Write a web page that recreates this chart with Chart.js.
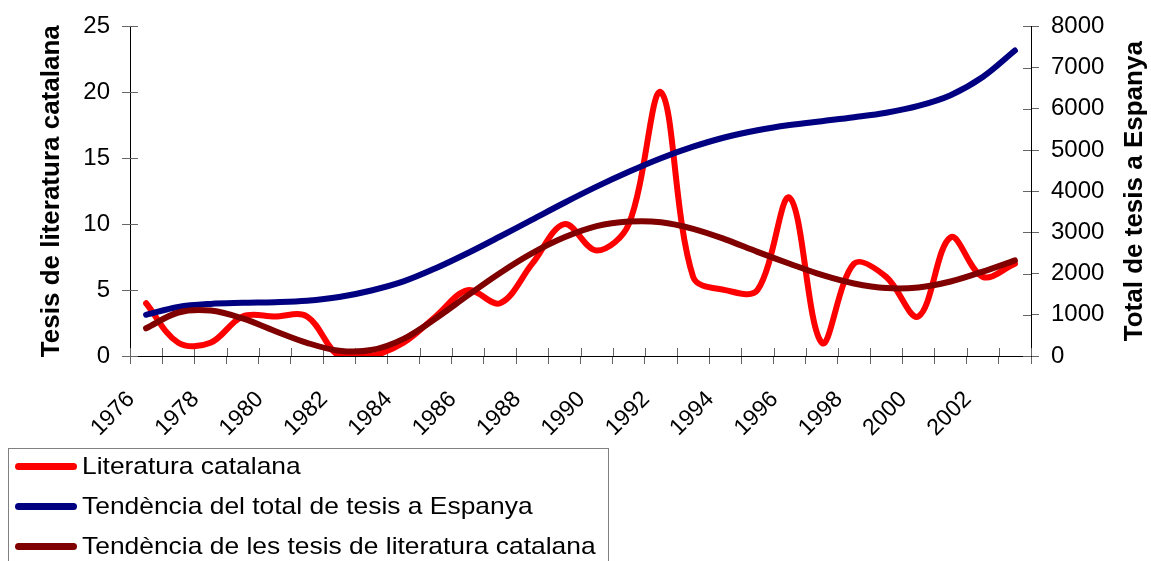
<!DOCTYPE html>
<html>
<head>
<meta charset="utf-8">
<script src="https://cdn.jsdelivr.net/npm/chart.js@4"></script>
<style>
  body { margin: 0; background: #fff; }
  #wrap { position: relative; width: 1151px; height: 561px; overflow: hidden; }
  #legend { position: absolute; left: 8px; top: 448px; width: 599px; height: 140px;
            border: 1px solid #808080; font-family: "Liberation Sans", Arial, sans-serif; font-size: 24px; }
  .row { position: absolute; left: 0; height: 30px; }
  .swatch { position: absolute; left: 6px; width: 62px; height: 7px; border-radius: 4px; }
  .lbl { position: absolute; left: 73px; white-space: nowrap; transform: scaleX(1.1); transform-origin: left center; line-height: 30px; }
</style>
</head>
<body>
<div id="wrap">
  <canvas id="chart" width="1151" height="561"></canvas>
  <div id="legend"></div>
</div>
<script>
const years = ['1976','1977','1978','1979','1980','1981','1982','1983','1984','1985','1986','1987','1988','1989',
               '1990','1991','1992','1993','1994','1995','1996','1997','1998','1999','2000','2001','2002','2003'];

// tesis de literatura catalana per any (eix esquerre)
const literatura = [4,1,1,3,3,3,0,0,1,3,5,4,7,10,8,10,20,6,5,5,12,1,7,6,3,9,6,7];

// tendencia del total a Espanya (eix dret)
const tendenciaEspanya = [1000,1190,1265,1290,1305,1340,1430,1590,1810,2130,2500,2900,3310,3720,
                          4110,4470,4800,5080,5310,5480,5605,5700,5795,5905,6070,6330,6770,7414];

// tendencia de literatura catalana (eix esquerre)
const tendenciaCatalana = [2.1,3.3,3.45,2.85,1.9,1.0,0.4,0.45,1.3,2.85,4.6,6.3,7.8,9.0,
                           9.85,10.2,10.15,9.65,8.85,7.9,7.0,6.15,5.5,5.15,5.2,5.65,6.4,7.25];

const leftTicks = [0,5,10,15,20,25];
const rightTicks = [0,1000,2000,3000,4000,5000,6000,7000,8000];
const rightTitle = 'Total de tesis a Espanya';

const FONT = '"Liberation Sans", Arial, sans-serif';

// little tick marks that cross the axis (inside part)
const innerTicks = {
  id: 'innerTicks',
  beforeDatasetsDraw(chart) {
    const ctx = chart.ctx;
    const area = chart.chartArea;
    const x = chart.scales.x, y = chart.scales.y, y2 = chart.scales.y2;
    ctx.save();
    ctx.strokeStyle = '#666';
    ctx.lineWidth = 1;
    ctx.beginPath();
    for (let i = 0; i <= years.length; i++) {
      const px = Math.round(x.getPixelForValue(i - 0.5)) + 0.5;
      ctx.moveTo(px, area.bottom);
      ctx.lineTo(px, area.bottom - 8);
    }
    leftTicks.forEach(v => {
      const py = Math.round(y.getPixelForValue(v)) + 0.5;
      ctx.moveTo(area.left, py);
      ctx.lineTo(area.left + 8, py);
    });
    rightTicks.forEach(v => {
      const py = Math.round(y2.getPixelForValue(v)) + 0.5;
      ctx.moveTo(area.right, py);
      ctx.lineTo(area.right - 8, py);
    });
    ctx.stroke();
    ctx.restore();
  },
  // right axis title reads bottom to top like in excel
  afterDraw(chart) {
    const ctx = chart.ctx;
    const area = chart.chartArea;
    const y2 = chart.scales.y2;
    ctx.save();
    ctx.translate(y2.right - 16.5, (area.top + area.bottom) / 2);
    ctx.rotate(-Math.PI / 2);
    ctx.font = 'bold 26px ' + FONT;
    ctx.fillStyle = '#000';
    ctx.textAlign = 'center';
    ctx.textBaseline = 'middle';
    ctx.fillText(rightTitle, 0, 0);
    ctx.restore();
  }
};

const ctx = document.getElementById('chart').getContext('2d');
const chart = new Chart(ctx, {
  type: 'line',
  data: {
    labels: years,
    datasets: [
      { label: 'Literatura catalana', data: literatura, borderColor: '#FF0000', yAxisID: 'y', order: 3 },
      { label: 'Tendència del total de tesis a Espanya', data: tendenciaEspanya, borderColor: '#000080', yAxisID: 'y2', order: 2 },
      { label: 'Tendència de les tesis de literatura catalana', data: tendenciaCatalana, borderColor: '#800000', yAxisID: 'y', order: 1 }
    ]
  },
  options: {
    responsive: false,
    animation: false,
    layout: { padding: { top: 24, left: 0, right: 0, bottom: 0 } },
    elements: {
      point: { radius: 0 },
      line: { borderWidth: 6, tension: 0.35, borderCapStyle: 'round', borderJoinStyle: 'round', fill: false }
    },
    plugins: { legend: { display: false }, tooltip: { enabled: false } },
    scales: {
      x: {
        offset: true,
        grid: { offset: true, drawOnChartArea: false, tickLength: 8, color: '#666' },
        border: { color: '#000' },
        ticks: {
          autoSkip: false, minRotation: 45, maxRotation: 45, color: '#000', padding: 22, labelOffset: -15,
          font: { family: FONT, size: 23 },
          callback: (v, i) => (i % 2 === 0 ? years[i] : '')
        },
        afterFit: s => { s.height = 205; }
      },
      y: {
        position: 'left', min: 0, max: 25,
        grid: { drawOnChartArea: false, tickLength: 8, color: '#666' },
        border: { color: '#000' },
        ticks: { stepSize: 5, color: '#000', padding: 12, font: { family: FONT, size: 24 } },
        title: { display: true, text: 'Tesis de literatura catalana', color: '#000',
                 font: { family: FONT, size: 26, weight: 'bold' }, padding: { top: 36, bottom: 0 } },
        afterFit: s => { s.width = 130; }
      },
      y2: {
        position: 'right', min: 0, max: 8000,
        grid: { drawOnChartArea: false, tickLength: 8, color: '#666' },
        border: { color: '#000' },
        ticks: { stepSize: 1000, color: '#000', padding: 12, font: { family: FONT, size: 24 },
                 callback: v => String(v) },
        afterFit: s => { s.width = 120; }
      }
    }
  },
  plugins: [innerTicks]
});

// legend in html, built from the datasets
const legend = document.getElementById('legend');
chart.data.datasets.forEach((ds, i) => {
  const row = document.createElement('div');
  row.className = 'row';
  row.style.top = (2 + i * 40) + 'px';
  row.innerHTML = '<div class="swatch" style="top:12px;background:' + ds.borderColor + '"></div>' +
                  '<span class="lbl">' + ds.label + '</span>';
  legend.appendChild(row);
});
</script>
</body>
</html>
